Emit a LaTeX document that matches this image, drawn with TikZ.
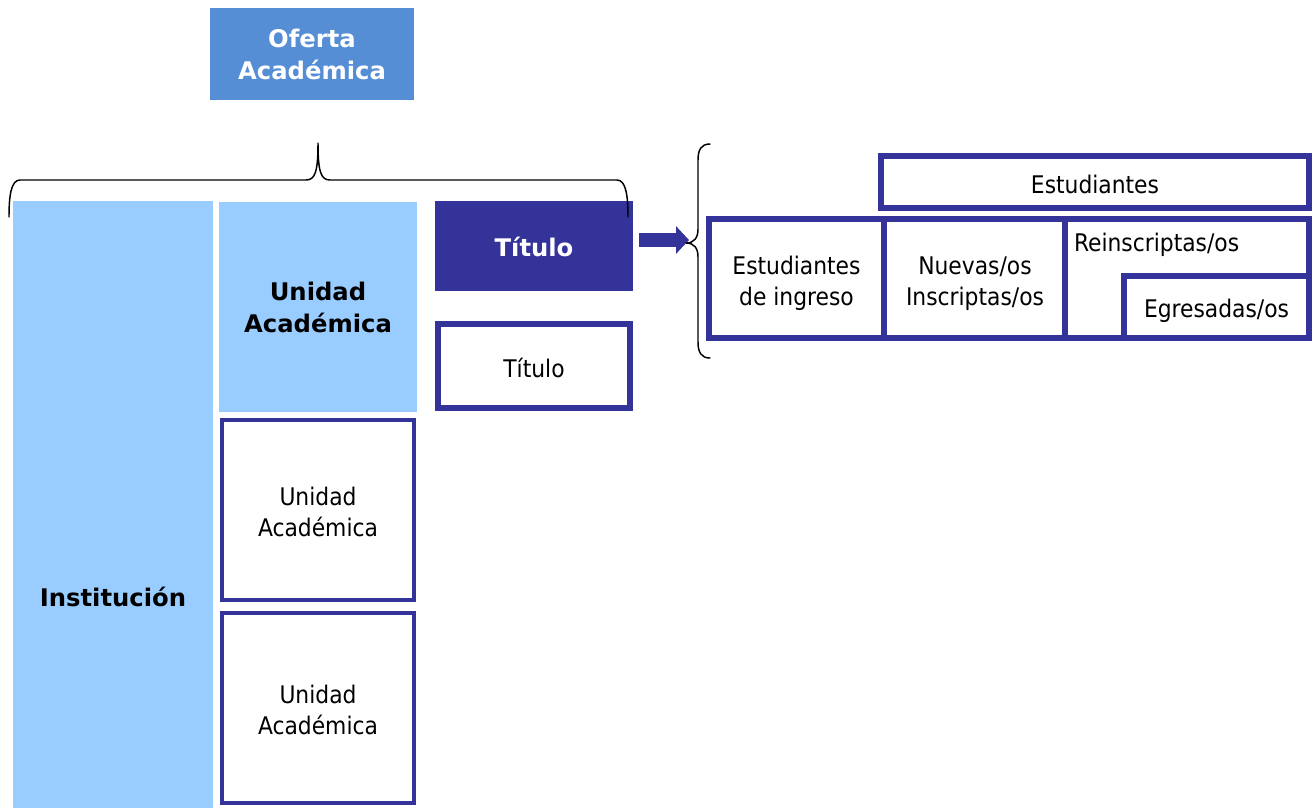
\documentclass[tikz,border=0pt]{standalone}
\usepackage{fontspec}
\setmainfont{DejaVu Sans Condensed}
\newfontfamily\bfam{DejaVu Sans}
\usetikzlibrary{arrows.meta}
\definecolor{ofe}{HTML}{558ED5}
\definecolor{lb}{HTML}{99CCFF}
\definecolor{dk}{HTML}{333399}
\tikzset{
  box/.style={rectangle, inner sep=0pt, outer sep=0pt, align=center},
  reg/.style={font=\fontsize{18.2}{23.25}\selectfont},
  bld/.style={font=\bfam\bfseries\fontsize{18.2}{24}\selectfont},
  txt/.style={box, reg},
  lightbox/.style={box, bld, fill=lb, text=black},
  darkbox/.style={box, bld, fill=dk, text=white},
  thickbox/.style={box, reg, draw=dk, line width=4.5pt, fill=white},
  thinbox/.style={box, reg, draw=dk, line width=3pt, fill=white},
  bracestyle/.style={draw=black, line width=1.1pt, line cap=round, line join=round},
}
\begin{document}
\begin{tikzpicture}[x=0.75pt,y=-0.75pt]
\useasboundingbox (0,0) rectangle (1316,808);
% left column
\node[box, bld, fill=ofe, text=white, minimum width=153pt, minimum height=69pt] (ofe) at (312,54) {Oferta\\Académica};
\node[lightbox, minimum width=150pt, minimum height=455.25pt] (inst) at (113,504.5) {};
\node[box, bld, text=black] (instlabel) at (113,597) {Institución};
\node[lightbox, minimum width=148.5pt, minimum height=157.5pt] (ua1) at (318,307) {Unidad\\Académica};
\node[thinbox, minimum width=144pt, minimum height=135pt] (ua2) at (318,510) {};
\node[txt] (ua2label) at (318,512) {Unidad\\Académica};
\node[thinbox, minimum width=144pt, minimum height=142.5pt] (ua3) at (318,708) {};
\node[txt] (ua3label) at (318,710) {Unidad\\Académica};
\node[darkbox, minimum width=148.5pt, minimum height=67.5pt] (tit1) at (534,246) {};
\node[box, bld, text=white] (tit1label) at (534,247) {Título};
\node[thickbox, minimum width=144pt, minimum height=63pt] (tit2) at (534,366) {};
\node[txt] (tit2label) at (534,368) {Título};
% right group
\node[thickbox, minimum width=321pt, minimum height=39pt] (est) at (1095,182) {};
\node[txt] (estlabel) at (1095,184) {Estudiantes};
\node[thickbox, minimum width=131.25pt, minimum height=89.25pt] (c1) at (796.5,278.5) {};
\node[txt] (c1label) at (796.5,283) {Estudiantes\\de ingreso};
\node[thickbox, minimum width=135.75pt, minimum height=89.25pt] (c2) at (974.5,278.5) {};
\node[txt] (c2label) at (975,283.5) {Nuevas/os\\Inscriptas/os};
\node[thickbox, minimum width=183pt, minimum height=89.25pt] (c3) at (1187,278.5) {};
\node[txt, anchor=west] (rein) at (1074,245) {Reinscriptas/os};
\node[thickbox, minimum width=138.75pt, minimum height=46.5pt] (egr) at (1216.5,307) {};
\node[txt] (egrlabel) at (1216.5,311) {Egresadas/os};
% arrow
\coordinate (arrs) at (639,240);
\coordinate (arrtip) at (689,240);
\draw[dk, line width=10.5pt, -{Triangle[length=9.75pt,width=20.25pt]}] (arrs) -- (arrtip);
% top brace
\draw[bracestyle] (9,217) .. controls (9,196) and (11,180) .. (20,180) -- (306,180)
  .. controls (315,180) and (318,172) .. (318,143)
  .. controls (318,172) and (321,180) .. (330,180) -- (617,180)
  .. controls (626,180) and (628,196) .. (628,217);
% right brace
\draw[bracestyle] (710,144) .. controls (701,144) and (698,150) .. (698,160) -- (698,229)
  .. controls (698,238) and (694,243) .. (686,243)
  .. controls (694,243) and (698,248) .. (698,257) -- (698,342)
  .. controls (698,352) and (701,358) .. (710,358);
\end{tikzpicture}
\end{document}
